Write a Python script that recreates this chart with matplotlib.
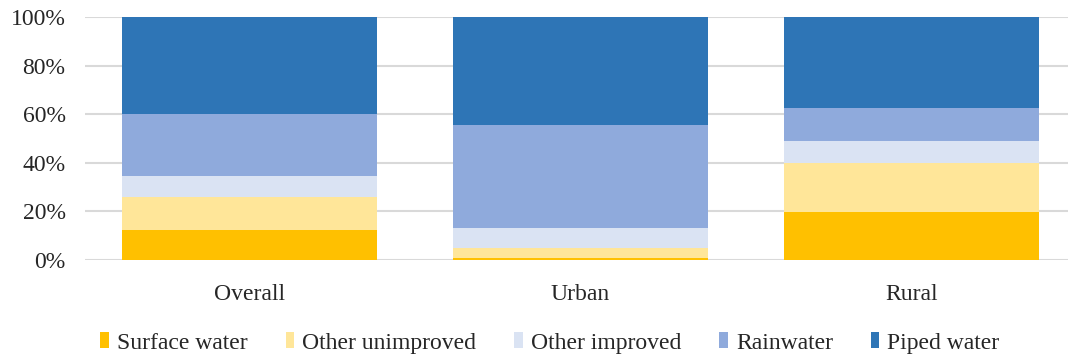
import matplotlib.pyplot as plt
from matplotlib.ticker import PercentFormatter

categories = ["Overall", "Urban", "Rural"]
series_names = ["Surface water", "Other unimproved", "Other improved", "Rainwater", "Piped water"]
surface_water = [12.3, 0.7, 19.9]
other_unimproved = [13.7, 4.1, 20.1]
other_improved = [8.6, 8.5, 8.9]
rainwater = [25.4, 42.4, 13.5]
piped_water = [40.0, 44.3, 37.6]
series_values = [surface_water, other_unimproved, other_improved, rainwater, piped_water]
colors = ["#FFC000", "#FFE699", "#DAE3F3", "#8FAADC", "#2E75B6"]

plt.rcParams['font.family'] = ['Liberation Serif', 'DejaVu Serif']

fig = plt.figure(figsize=(10.68, 3.6), dpi=100)
ax = fig.add_axes([85 / 1068, 1 - 260 / 360, (1068 - 85) / 1068, 243 / 360])

x = list(range(len(categories)))
bottom = [0.0] * len(categories)
handles = []
for name, vals, col in zip(series_names, series_values, colors):
    h = ax.bar(x, vals, width=0.77, bottom=bottom, color=col, label=name, zorder=3)
    handles.append(h)
    bottom = [b + v for b, v in zip(bottom, vals)]

ax.set_ylim(0, 100)
ax.set_xlim(-0.498, 2.474)
ax.set_yticks([0, 20, 40, 60, 80, 100])
ax.yaxis.set_major_formatter(PercentFormatter(decimals=0))
ax.set_xticks(x)
ax.set_xticklabels(categories)
ax.grid(axis='y', color='#D9D9D9', linewidth=1.5, zorder=0)
for s in ax.spines.values():
    s.set_visible(False)
ax.tick_params(axis='both', length=0, labelsize=17, colors='#262626')
ax.tick_params(axis='x', pad=17)
ax.tick_params(axis='y', pad=14)

fig.legend(handles, series_names, loc='center', bbox_to_anchor=(0.515, 1 - 343 / 360),
           ncol=5, frameon=False, fontsize=17, handlelength=0.36, handleheight=0.65,
           handletextpad=0.35, columnspacing=1.6, labelcolor='#262626')

fig.savefig("out.png", dpi=100)
